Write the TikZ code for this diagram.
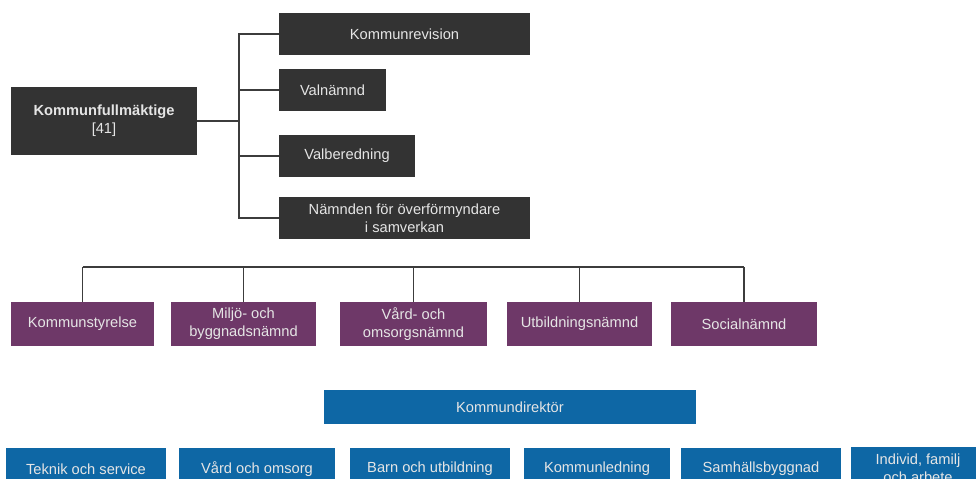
\documentclass[tikz,border=0pt]{standalone}
\usepackage{fontspec}
\setmainfont{Liberation Sans}
\usetikzlibrary{positioning}
\usetikzlibrary{calc}

\definecolor{boxgray}{RGB}{51,51,51}
\definecolor{boxpurple}{RGB}{110,56,104}
\definecolor{boxblue}{RGB}{14,103,165}
\definecolor{linegray}{RGB}{60,60,60}

\begin{document}
\begin{tikzpicture}[
x=0.75pt, y=-0.75pt,
orgnode/.style={rectangle, inner sep=0pt, align=center, anchor=center,
text=white!90!black, font=\fontsize{11pt}{13.5pt}\selectfont, minimum height=42*0.75pt},
graynode/.style={orgnode, fill=boxgray},
purplenode/.style={orgnode, fill=boxpurple, minimum height=44*0.75pt},
bluenode/.style={orgnode, fill=boxblue},
orgline/.style={draw=linegray, line width=0.8pt}
]

\useasboundingbox (0,0) rectangle (976,479);
\clip (0,0) rectangle (976,479);

%Nodes
\node[graynode, minimum width=186*0.75pt, minimum height=68*0.75pt] (kf) at (104,121)
  {\textbf{Kommunfullmäktige}\\{}[41]};
\node[graynode, minimum width=251*0.75pt] (krev) at (404.5,34) {Kommunrevision};
\node[graynode, minimum width=107*0.75pt] (valn) at (332.5,90) {Valnämnd};
\node[graynode, minimum width=136*0.75pt] (valb) at (347,156) {Valberedning};
\node[graynode, minimum width=251*0.75pt] (ofn) at (404.5,218) {Nämnden för överförmyndare\\i samverkan};

\node[purplenode, minimum width=143*0.75pt] (ks) at (82.5,324) {Kommunstyrelse};
\node[purplenode, minimum width=145*0.75pt] (mbn) at (243.5,324) {Miljö- och\\byggnadsnämnd};
\node[purplenode, minimum width=147*0.75pt] (von) at (413.5,324) {Vård- och\\omsorgsnämnd};
\node[purplenode, minimum width=145*0.75pt] (utb) at (579.5,324) {Utbildningsnämnd};
\node[purplenode, minimum width=146*0.75pt] (soc) at (744,324) {Socialnämnd};

\node[bluenode, minimum width=372*0.75pt, minimum height=34*0.75pt] (kd) at (510,407) {Kommundirektör};

\node[bluenode, minimum width=160*0.75pt] (tos) at (86,469) {Teknik och service};
\node[bluenode, minimum width=156*0.75pt] (voo) at (257,469) {Vård och omsorg};
\node[bluenode, minimum width=160*0.75pt] (bou) at (430,469) {Barn och utbildning};
\node[bluenode, minimum width=146*0.75pt] (kl) at (597,469) {Kommunledning};
\node[bluenode, minimum width=160*0.75pt] (sb) at (761,469) {Samhällsbyggnad};
\node[bluenode, minimum width=134*0.75pt] (ifa) at (918,468) {Individ, familj\\och arbete};

%Coordinates
\coordinate (trunk) at (239,121);
\coordinate (bar) at (0,267);

%Lines
\draw[orgline] (kf.east) -- (trunk);
\draw[orgline] (krev.west) -| (trunk);
\draw[orgline] (ofn.west) -| (trunk);
\draw[orgline] (valn.west) -- (valn.west -| trunk);
\draw[orgline] (valb.west) -- (valb.west -| trunk);

\draw[orgline] (ks.north |- bar) -- (soc.north |- bar);
\foreach \n in {ks, mbn, von, utb, soc}
  \draw[orgline] (\n.north) -- (\n.north |- bar);

\end{tikzpicture}
\end{document}
